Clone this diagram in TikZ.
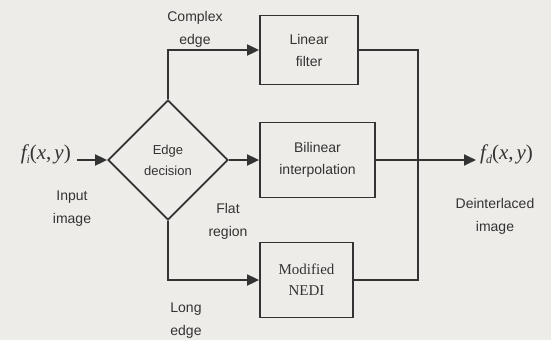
\documentclass[tikz,border=0pt]{standalone}
\usepackage{fontspec}
\setmainfont{Liberation Sans}
\newfontfamily\serifrm{Liberation Serif}
\usetikzlibrary{arrows.meta,shapes.geometric}
\definecolor{ink}{HTML}{333333}
\definecolor{paper}{HTML}{EDECE8}
\newcommand{\fxy}[1]{{\serifrm\fontsize{21}{22}\selectfont\itshape f\raisebox{-4pt}{\fontsize{12}{12}\selectfont #1}\upshape(\itshape x\upshape,\kern3pt\itshape y\upshape)}}
\begin{document}
\begin{tikzpicture}[x=1pt,y=-1pt,
  every node/.style={text=ink},
  line/.style={draw=ink,line width=1.8pt},
  arr/.style={line,-{Triangle[length=12pt,width=11pt]}},
  blk/.style={draw=ink,line width=1.8pt,rectangle,inner sep=0pt,align=center,font=\fontsize{14}{22}\selectfont},
  lbl/.style={align=center,font=\fontsize{14}{23}\selectfont}]
\fill[paper] (0,0) rectangle (551,340);
\useasboundingbox (0,0) rectangle (551,340);
\node[diamond,draw=ink,line width=1.8pt,minimum width=120pt,minimum height=120pt,inner sep=0pt,align=center,font=\fontsize{13}{21}\selectfont] (dec) at (168,160) {Edge\\decision};
\node[blk,minimum width=98pt,minimum height=69pt] (lin) at (309,50) {Linear\\filter};
\node[blk,minimum width=115pt,minimum height=75pt] (bil) at (317.5,160) {Bilinear\\interpolation};
\node[blk,minimum width=93pt,minimum height=75pt,font=\fontsize{15}{21}\serifrm] (ned) at (306.5,280) {Modified\\NEDI};
\node[anchor=east,inner sep=0pt] (fi) at (71,154) {\fxy{i}};
\node[anchor=west,inner sep=0pt] (fd) at (480,154) {\fxy{d}};
\coordinate (in) at (77,160);
\coordinate (tip) at (476,160);
\coordinate (j) at (418,280);
\draw[arr] (in) -- (dec.west);
\draw[arr] (dec.north) |- (lin.west);
\draw[arr] (dec.east) -- (bil.west);
\draw[arr] (dec.south) |- (ned.west);
\draw[line] (lin.east) -| (j) -- (ned.east);
\draw[arr] (bil.east) -- (tip);
\node[lbl] (l1) at (195,29) {Complex\\edge};
\node[lbl] (l2) at (72,209) {Input\\image};
\node[lbl] (l3) at (228,221) {Flat\\region};
\node[lbl] (l4) at (186,321) {Long\\edge};
\node[lbl] (l5) at (495,216) {Deinterlaced\\image};
\end{tikzpicture}
\end{document}
